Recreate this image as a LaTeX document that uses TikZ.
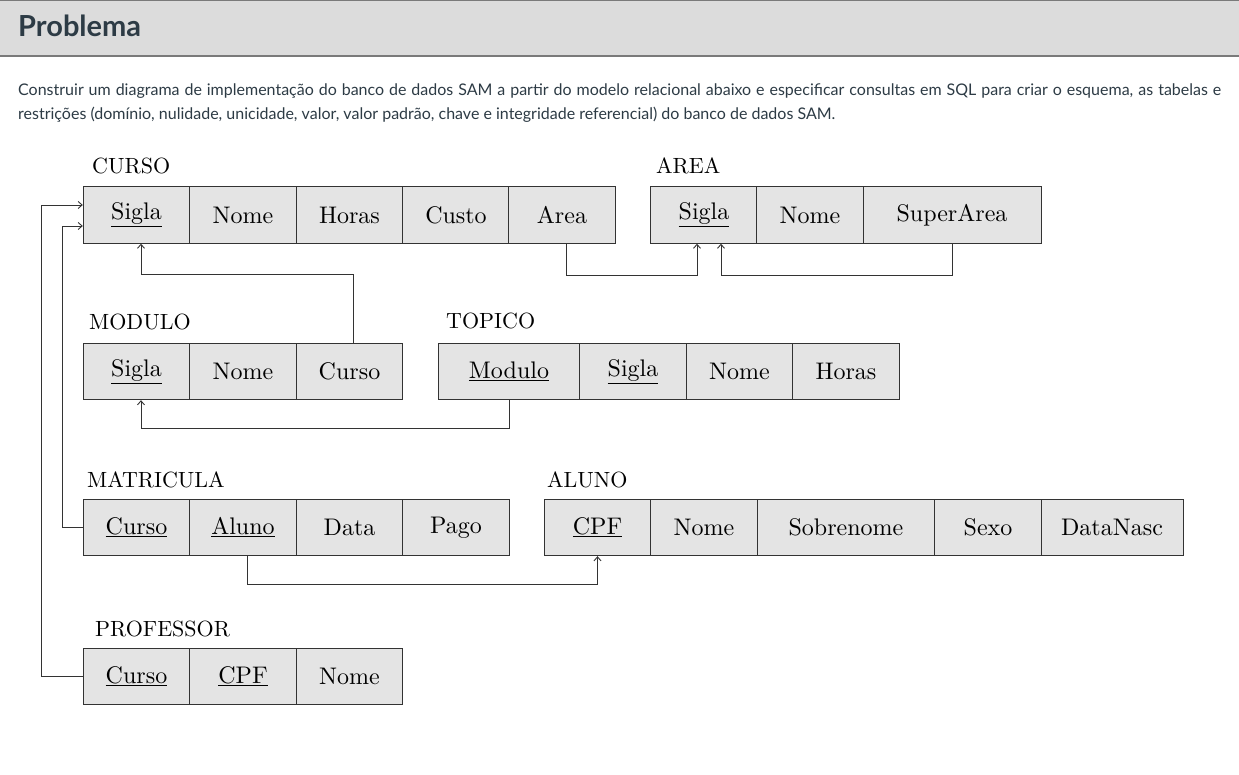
\documentclass[tikz,border=0pt]{standalone}
\usepackage{fontspec}
\newfontfamily\latofont{Lato}
\newfontfamily\dfont{lmroman10-regular.otf}
\usetikzlibrary{arrows.meta}
\definecolor{hdrgray}{HTML}{DCDCDC}
\definecolor{hdrline}{HTML}{7A7A7A}
\definecolor{txtcol}{HTML}{2D3B45}
\definecolor{cellgray}{HTML}{E4E4E4}
\definecolor{linecol}{HTML}{333333}
\tikzset{
  cell/.style={draw=linecol, fill=cellgray, line width=0.9pt, inner sep=0pt,
    minimum height=56.5pt, font=\dfont\fontsize{24}{27}\selectfont},
  tlabel/.style={anchor=base west, inner sep=0pt, font=\dfont\fontsize{22}{26}\selectfont},
  fk/.style={draw=linecol, line width=0.9pt, -{Straight Barb[length=4pt,width=7pt]}},
}
\begin{document}
\begin{tikzpicture}[x=1pt,y=-1pt]
\fill[white] (0,0) rectangle (1239,775);
\useasboundingbox (0,0) rectangle (1239,775);
% header
\fill[hdrgray] (0,0) rectangle (1239,56);
\draw[hdrline, line width=1.2pt] (0,0.6) -- (1239,0.6);
\draw[hdrline, line width=1.2pt] (0,56) -- (1239,56);
\node[anchor=base west, inner sep=0pt, text=txtcol, font=\latofont\bfseries\fontsize{29}{32}\selectfont] (title) at (18,37) {Problema};
\node[anchor=base west, inner sep=0pt, text=txtcol, text width=1203pt, align=justify,
  font=\latofont\fontsize{16}{24}\selectfont] (para) at (18,96)
  {Construir um diagrama de implementação do banco de dados SAM a partir do modelo relacional abaixo e especificar consultas em SQL para criar o esquema, as tabelas e\linebreak restrições (domínio, nulidade, unicidade, valor, valor padrão, chave e integridade referencial) do banco de dados SAM.};
% CURSO
\node[tlabel] (lcurso) at (92,174) {CURSO};
\node[cell, minimum width=106.5pt] (cSigla) at (136.5,215) {\underline{Sigla}};
\node[cell, minimum width=106.5pt] (cNome) at (243,215) {Nome};
\node[cell, minimum width=106.5pt] (cHoras) at (349.5,215) {Horas};
\node[cell, minimum width=106.5pt] (cCusto) at (456,215) {Custo};
\node[cell, minimum width=106.5pt] (cArea) at (562,215) {Area};
% AREA
\node[tlabel] (larea) at (656,174) {AREA};
\node[cell, minimum width=106.5pt] (aSigla) at (704,215) {\underline{Sigla}};
\node[cell, minimum width=106.5pt] (aNome) at (810,215) {Nome};
\node[cell, minimum width=178pt] (aSuper) at (952,215) {SuperArea};
% MODULO
\node[tlabel] (lmodulo) at (89,330) {MODULO};
\node[cell, minimum width=106.5pt] (mSigla) at (136.5,371.5) {\underline{Sigla}};
\node[cell, minimum width=106.5pt] (mNome) at (243,371.5) {Nome};
\node[cell, minimum width=106.5pt] (mCurso) at (349.5,371.5) {Curso};
% TOPICO
\node[tlabel] (ltopico) at (446,329) {TOPICO};
\node[cell, minimum width=142pt] (tModulo) at (509,371.5) {\underline{Modulo}};
\node[cell, minimum width=106.5pt] (tSigla) at (633,371.5) {\underline{Sigla}};
\node[cell, minimum width=106.5pt] (tNome) at (739.5,371.5) {Nome};
\node[cell, minimum width=106.5pt] (tHoras) at (846,371.5) {Horas};
% MATRICULA
\node[tlabel] (lmatricula) at (87,487) {MATRICULA};
\node[cell, minimum width=106.5pt] (xCurso) at (136.5,527.5) {\underline{Curso}};
\node[cell, minimum width=106.5pt] (xAluno) at (243,527.5) {\underline{Aluno}};
\node[cell, minimum width=106.5pt] (xData) at (349.5,527.5) {Data};
\node[cell, minimum width=106.5pt] (xPago) at (456,527.5) {Pago};
% ALUNO
\node[tlabel] (laluno) at (547,487) {ALUNO};
\node[cell, minimum width=106.5pt] (uCPF) at (597.5,527.5) {\underline{CPF}};
\node[cell, minimum width=106.5pt] (uNome) at (704,527.5) {Nome};
\node[cell, minimum width=178pt] (uSobre) at (846,527.5) {Sobrenome};
\node[cell, minimum width=106.5pt] (uSexo) at (988,527.5) {Sexo};
\node[cell, minimum width=142pt] (uData) at (1112,527.5) {DataNasc};
% PROFESSOR
\node[tlabel] (lprof) at (95,636) {PROFESSOR};
\node[cell, minimum width=106.5pt] (pCurso) at (136.5,676.5) {\underline{Curso}};
\node[cell, minimum width=106.5pt] (pCPF) at (243,676.5) {\underline{CPF}};
\node[cell, minimum width=106.5pt] (pNome) at (349.5,676.5) {Nome};
% connectors
\draw[fk] ([xshift=4pt]cArea.south) -- ++(0,32) -| ([xshift=-7pt]aSigla.south);
\draw[fk] (aSuper.south) -- ++(0,32) -| ([xshift=17pt]aSigla.south);
\draw[fk] ([xshift=3.5pt]mCurso.north) -- ++(0,-68) -| ([xshift=4.5pt]cSigla.south);
\draw[fk] (tModulo.south) -- ++(0,28) -| ([xshift=4.5pt]mSigla.south);
\draw[fk] ([xshift=4pt]xAluno.south) -- ++(0,28) -| (uCPF.south);
\draw[fk] (xCurso.west) -- ++(-20,0) |- ([yshift=-11pt]cSigla.west);
\draw[fk] (pCurso.west) -- ++(-41,0) |- ([yshift=10pt]cSigla.west);
\end{tikzpicture}
\end{document}
